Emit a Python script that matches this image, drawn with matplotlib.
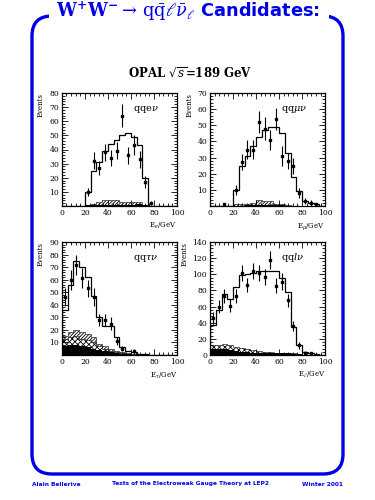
import matplotlib
matplotlib.use("Agg")
from matplotlib import pyplot as plt
from matplotlib.patches import FancyBboxPatch, Rectangle
from matplotlib.ticker import MultipleLocator
import numpy as np

plt.rcParams['mathtext.fontset'] = 'dejavuserif'
plt.rcParams['hatch.linewidth'] = 0.6

edges = np.arange(0, 105, 5)

# --- qq e nu ---
e_mc = [0, 0, 0, 0, 10, 25, 31, 39, 44, 47, 50, 52, 49, 43, 20, 0, 0, 0, 0, 0]
e_hatch = [0, 0, 0, 0, 1, 1.5, 3, 4, 4, 4, 2.5, 3, 3, 3, 1, 0, 0, 0, 0, 0]
e_black = [0, 0, 0, 0, 0.5, 0.5, 1, 1, 1, 1, 1, 1, 1, 1.5, 0.5, 0, 0, 0, 0, 0]
e_x = [22.5, 27.5, 32.5, 37.5, 42.5, 47.5, 52.5, 57.5, 62.5, 67.5, 72.5, 77.5]
e_y = [10, 32, 27, 38, 34, 39, 64, 36, 43, 33, 17, 2]
e_err = [3, 6, 5, 6, 6, 6, 8, 6, 7, 6, 4, 1.5]

# --- qq mu nu ---
mu_mc = [0, 0, 0, 0, 10, 25, 31, 37, 43, 47, 49, 49, 45, 33, 18, 9, 3, 2, 1, 0]
mu_hatch = [0, 0, 0, 0, 1, 1, 1.5, 2, 4, 3, 3, 1.5, 1, 0.5, 0, 0, 0, 0, 0, 0]
mu_black = [0, 0, 0, 0, 0.3, 0.3, 0.5, 0.5, 0.5, 0.5, 0.5, 0.5, 0.5, 0.3, 0, 0, 0, 0, 0, 0]
mu_x = [12.5, 22.5, 27.5, 32.5, 37.5, 42.5, 47.5, 52.5, 57.5, 62.5, 67.5, 72.5, 77.5, 82.5, 87.5, 92.5]
mu_y = [1, 10, 27, 35, 35, 52, 48, 41, 54, 31, 28, 25, 8, 3, 2, 1]
mu_err = [1, 3, 5, 6, 6, 7, 7, 6, 7, 6, 5, 5, 3, 2, 1.5, 1]

# --- qq tau nu ---
tau_mc = [36, 56, 75, 70, 62, 47, 30, 23, 23, 14, 6, 3, 2, 1, 0.5, 0.3, 0, 0, 0, 0]
tau_hatch = [15, 18, 20, 18, 17, 14, 9, 7, 5, 3, 2, 1.5, 1, 0.5, 0.3, 0, 0, 0, 0, 0]
tau_dots = [13, 14, 15, 13, 12, 10, 7, 5, 3.5, 2, 1.5, 1, 0.5, 0.3, 0, 0, 0, 0, 0, 0]
tau_black = [7, 8, 8, 7, 6, 5, 4, 3, 2, 1.5, 1, 0.5, 0.3, 0, 0, 0, 0, 0, 0, 0]
tau_x = [2.5, 7.5, 12.5, 17.5, 22.5, 27.5, 32.5, 37.5, 42.5, 47.5, 52.5, 62.5]
tau_y = [46, 60, 72, 61, 53, 46, 28, 28, 25, 11, 5, 3]
tau_err = [7, 8, 8, 8, 7, 7, 5, 5, 5, 3, 2, 2]

# --- qq l nu ---
l_mc = [37, 56, 76, 70, 84, 99, 100, 101, 104, 104, 104, 104, 96, 78, 35, 13, 4, 2, 1, 0]
l_dots = [12, 13, 14, 12, 10, 9, 7, 6, 5, 4, 3.5, 3, 3, 3, 2, 1, 0.5, 0, 0, 0]
l_black = [7, 8, 7, 6, 5, 4, 4, 3, 3, 3, 2.5, 2, 2, 2, 1.5, 1, 0.3, 0, 0, 0]
l_x = [2.5, 7.5, 12.5, 17.5, 22.5, 27.5, 32.5, 37.5, 42.5, 47.5, 52.5, 57.5, 62.5, 67.5, 72.5, 77.5, 82.5, 87.5]
l_y = [46, 60, 73, 61, 73, 102, 87, 104, 102, 97, 118, 86, 91, 68, 36, 12, 3, 2]
l_err = [7, 8, 9, 8, 9, 10, 9, 10, 10, 10, 11, 9, 10, 8, 6, 4, 2, 1.5]

blue = '#0000e6'
serif = ['DejaVu Serif']

fig = plt.figure(figsize=(3.75, 5), dpi=100)

# slide frame, drawn in pixel units
bg = fig.add_axes([0, 0, 1, 1], zorder=0)
bg.set_xlim(0, 375)
bg.set_ylim(500, 0)
bg.axis('off')
bg.add_patch(FancyBboxPatch((32, 16), 311, 458, boxstyle="round,pad=0,rounding_size=20",
                            fill=False, edgecolor=blue, lw=2.4))
bg.add_patch(Rectangle((49, 2), 280, 22, facecolor='white', edgecolor='none', zorder=3))
bg.text(188, 11, r"$\mathbf{W^{+}W^{-}}\rightarrow\,\mathrm{q\bar{q}}\ell\bar{\nu}_{\ell}$ Candidates:",
        ha='center', va='center', color=blue, fontsize=12.8, fontweight='bold', zorder=4)
bg.text(190, 74, r"OPAL $\sqrt{s}$=189 GeV", ha='center', va='center', fontsize=8.5,
        fontweight='bold', family=serif)
bg.text(32, 484, "Alain Bellerive", ha='left', va='center', fontsize=4.2, color=blue, fontweight='bold')
bg.text(190, 484, "Tests of the Electroweak Gauge Theory at LEP2", ha='center', va='center',
        fontsize=4.2, color=blue, fontweight='bold')
bg.text(343, 484, "Winter 2001", ha='right', va='center', fontsize=4.2, color=blue, fontweight='bold')


def panel(rect, ymax, ymaj, label, xlab, mc, x, y, err, layers):
    ax = fig.add_axes(rect, zorder=2)
    for vals, style in layers:
        if style == 'hatch':
            ax.stairs(vals, edges, fill=True, facecolor='white', edgecolor='black', hatch='//////////', lw=0.4)
        elif style == 'dots':
            ax.stairs(vals, edges, fill=True, facecolor='white', edgecolor='black', hatch='xxxxxx', lw=0.4)
        else:
            ax.stairs(vals, edges, fill=True, color='black', lw=0)
    ax.stairs(mc, edges, color='black', lw=0.9)
    ax.errorbar(x, y, yerr=err, fmt='s', ms=1.8, color='black', elinewidth=0.8, capsize=0)
    ax.set_xlim(0, 100)
    ax.set_ylim(0, ymax)
    ax.xaxis.set_major_locator(MultipleLocator(20))
    ax.xaxis.set_minor_locator(MultipleLocator(4))
    ax.yaxis.set_major_locator(MultipleLocator(ymaj))
    ax.yaxis.set_minor_locator(MultipleLocator(ymaj / 5))
    ax.tick_params(which='both', direction='in', top=True, right=True, labelsize=5.5, pad=2)
    ax.tick_params(which='major', length=4, width=0.6)
    ax.tick_params(which='minor', length=2, width=0.6)
    for t in ax.get_xticklabels() + ax.get_yticklabels():
        t.set_family(serif)
    if ymaj == 10:
        ax.set_yticks([v for v in range(10, ymax + 1, 10)])
    for s in ax.spines.values():
        s.set_linewidth(0.9)
    ax.text(0.62, 0.84, label, transform=ax.transAxes, fontsize=7, family=serif)
    ax.set_ylabel("Events", fontsize=5, family=serif, loc='top', labelpad=3)
    ax.set_xlabel(xlab, fontsize=5, family=serif, loc='right', labelpad=3)
    return ax


panel([0.165, 0.588, 0.307, 0.226], 80, 10, r"qqe$\nu$", r"E$_e$/GeV", e_mc, e_x, e_y, e_err,
      [(e_hatch, 'hatch'), (e_black, 'black')])
panel([0.56, 0.588, 0.307, 0.226], 70, 10, r"qq$\mu\nu$", r"E$_\mu$/GeV", mu_mc, mu_x, mu_y, mu_err,
      [(mu_hatch, 'hatch'), (mu_black, 'black')])
panel([0.165, 0.29, 0.307, 0.226], 90, 10, r"qq$\tau\nu$", r"E$_\tau$/GeV", tau_mc, tau_x, tau_y, tau_err,
      [(tau_hatch, 'hatch'), (tau_dots, 'dots'), (tau_black, 'black')])
panel([0.56, 0.29, 0.307, 0.226], 140, 20, r"qq$l\nu$", r"E$_\ell$/GeV", l_mc, l_x, l_y, l_err,
      [(l_dots, 'dots'), (l_black, 'black')])

fig.savefig("out.png", dpi=100)
